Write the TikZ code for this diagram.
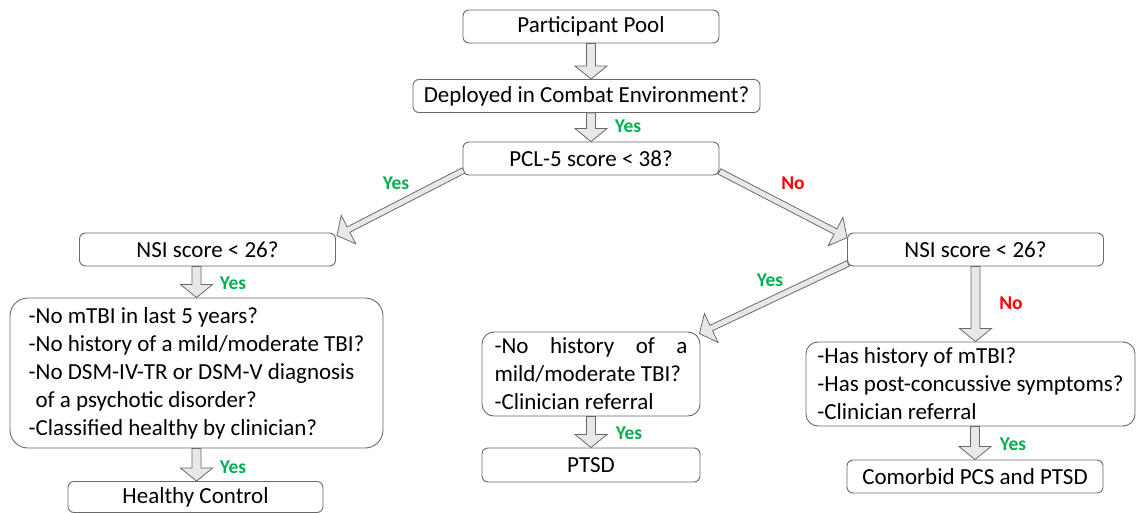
\documentclass[tikz,border=0pt]{standalone}
\usepackage{fontspec}
\setmainfont{Carlito}
\usetikzlibrary{calc}
\definecolor{yesgreen}{RGB}{0,176,80}
\definecolor{nored}{RGB}{255,0,0}
\definecolor{boxline}{RGB}{105,105,105}
\definecolor{arrowfill}{RGB}{232,232,232}
\newcommand\barr[3][4.5pt]{%
  \coordinate (barrH) at ($(#3)!13pt!(#2)$);
  \draw[blockarrow] ($(#2)!#1!90:(#3)$) -- ($(barrH)!#1!90:(#3)$) -- ($(barrH)!16pt!90:(#3)$) -- (#3) -- ($(barrH)!16pt!-90:(#3)$) -- ($(barrH)!#1!-90:(#3)$) -- ($(#2)!#1!-90:(#3)$) -- cycle;}
\tikzset{
  box/.style={draw=boxline, line width=0.9pt, rounded corners=6pt, fill=white, inner sep=0pt,
    font=\fontsize{23}{28}\selectfont, align=center, minimum height=33pt},
  lbl/.style={font=\fontsize{19.5}{22}\selectfont\bfseries, inner sep=0pt},
  yes/.style={lbl, text=yesgreen},
  no/.style={lbl, text=nored},
  blockarrow/.style={draw=boxline, fill=arrowfill, line width=0.8pt, line join=miter},
}
\begin{document}
\begin{tikzpicture}[x=1pt,y=-1pt]
\useasboundingbox (0,0) rectangle (1137,513);
% boxes
\node[box, minimum width=256pt] (pp) at (591,26.5) {Participant Pool};
\node[box, minimum width=347pt] (dep) at (586.5,96) {Deployed in Combat Environment?};
\node[box, minimum width=256pt] (pcl) at (591,158.5) {PCL-5 score < 38?};
\node[box, minimum width=256pt] (nsiL) at (207.5,249.5) {NSI score < 26?};
\node[box, minimum width=256pt] (nsiR) at (975.5,249.5) {NSI score < 26?};
\node[box, rounded corners=18pt, minimum width=373pt, minimum height=150pt, align=left] (critL) at (196.5,373)
  {-No mTBI in last 5 years?\\-No history of a mild/moderate TBI?\\-No DSM-IV-TR or DSM-V diagnosis\\\hspace*{7pt}of a psychotic disorder?\\-Classified healthy by clinician?};
\node[box, rounded corners=12pt, minimum width=218pt, minimum height=84pt, align=left] (critM) at (591,374)
  {\makebox[193pt][s]{-No history of a}\\mild/moderate TBI?\\-Clinician referral};
\node[box, rounded corners=12pt, minimum width=329pt, minimum height=84pt, align=left] (critR) at (970.5,384)
  {-Has history of mTBI?\\-Has post-concussive symptoms?\\-Clinician referral};
\node[box, minimum width=255pt, minimum height=31pt] (hc) at (195.5,497) {Healthy Control};
\node[box, minimum width=218pt, minimum height=34pt] (ptsd) at (591,465) {PTSD};
\node[box, minimum width=256pt] (com) at (975,476.5) {Comorbid PCS and PTSD};
% connector end points
\coordinate (a1s) at (pp.south);
\coordinate (a1e) at (pp.south |- dep.north);
\coordinate (a2s) at (pcl.north |- dep.south);
\coordinate (a2e) at (pcl.north);
\coordinate (a3s) at ($(pcl.south west)+(1,-5)$);
\coordinate (a3e) at ($(nsiL.north east)+(1,3)$);
\coordinate (a4s) at ($(pcl.south east)+(0,-4)$);
\coordinate (a4e) at ($(nsiR.north west)+(0,5)$);
\coordinate (a5s) at (critL.north |- nsiL.south);
\coordinate (a5e) at (critL.north);
\coordinate (a6s) at (critL.south);
\coordinate (a6e) at (critL.south |- hc.north);
\coordinate (a7s) at ($(nsiR.south west)+(1,-3)$);
\coordinate (a7e) at ($(critM.north east)+(-1,2)$);
\coordinate (a8s) at (critM.south);
\coordinate (a8e) at (ptsd.north);
\coordinate (a9s) at (nsiR.south);
\coordinate (a9e) at (nsiR.south |- critR.north);
\coordinate (a10s) at (com.north |- critR.south);
\coordinate (a10e) at (com.north);
% block arrows
\barr{a1s}{a1e}
\barr{a2s}{a2e}
\barr[3pt]{a3s}{a3e}
\barr[3pt]{a4s}{a4e}
\barr{a5s}{a5e}
\barr{a6s}{a6e}
\barr[3pt]{a7s}{a7e}
\barr{a8s}{a8e}
\barr{a9s}{a9e}
\barr{a10s}{a10e}
% labels
\node[yes] (l2) at (628,126) {Yes};
\node[yes] (l3) at (396,183) {Yes};
\node[no] (l4) at (793,183) {No};
\node[yes] (l5) at (233,283) {Yes};
\node[yes] (l6) at (233,467) {Yes};
\node[yes] (l7) at (770,280) {Yes};
\node[yes] (l8) at (629,433) {Yes};
\node[no] (l9) at (1011,303) {No};
\node[yes] (l10) at (1013,444) {Yes};
\end{tikzpicture}
\end{document}
